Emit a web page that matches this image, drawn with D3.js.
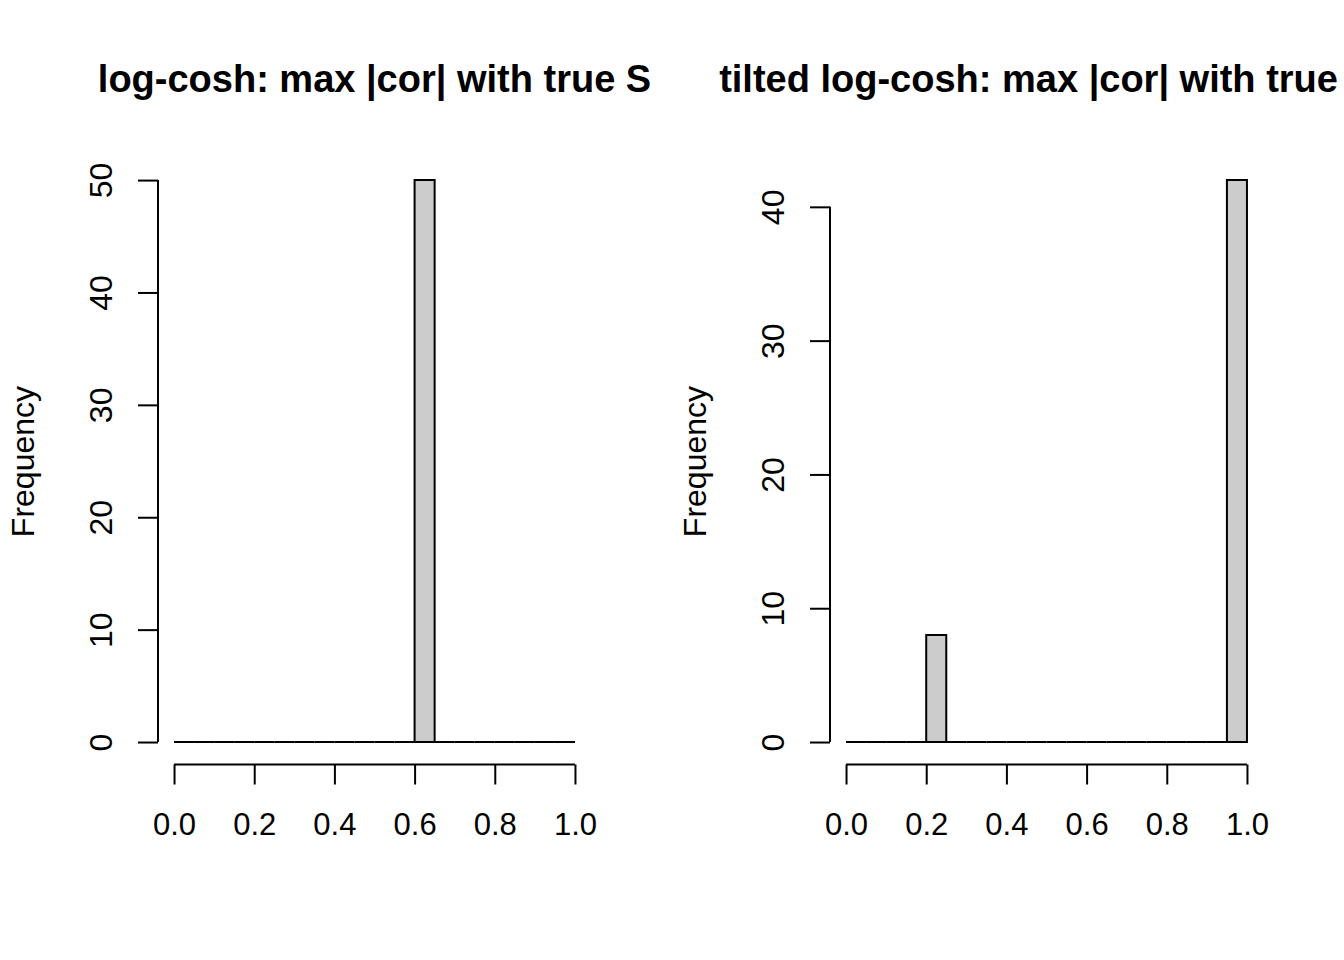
<!DOCTYPE html>
<html>
<head>
<meta charset="utf-8">
<script src="https://cdn.jsdelivr.net/npm/d3@7"></script>
<style>
  body { margin: 0; background: #fff; }
  text { font-family: "Liberation Sans", Arial, sans-serif; fill: #000; }
</style>
</head>
<body>
<div id="chart"></div>
<script>
// histogram breaks and counts
let breaks = d3.range(0, 21).map(function (i) { return +(i * 0.05).toFixed(2); });
let countsLogcosh = [0,0,0,0,0,0,0,0,0,0,0,0,50,0,0,0,0,0,0,0];
let countsTilted  = [0,0,0,0,8,0,0,0,0,0,0,0,0,0,0,0,0,0,0,42];
let xTicks = [0, 0.2, 0.4, 0.6, 0.8, 1.0];
let yTicksLogcosh = [0, 10, 20, 30, 40, 50];
let yTicksTilted = [0, 10, 20, 30, 40];
let titles = ["log-cosh: max |cor| with true S", "tilted log-cosh: max |cor| with true S"];

let W = 1344, H = 960;
let svg = d3.select('#chart').append('svg')
    .attr('width', W)
    .attr('height', H);

let plotTop = 157.6, plotBottom = 764.5;
let font = '"Liberation Sans", Arial, sans-serif';

function panel(offsetX, counts, yTicks, title) {
    let x = d3.scaleLinear().domain([-0.04, 1.04]).range([offsetX + 158, offsetX + 591]);
    let ymax = d3.max(counts);
    let y = d3.scaleLinear().domain([-0.04 * ymax, 1.04 * ymax]).range([plotBottom, plotTop]);

    let g = svg.append('g');

    let bins = counts.map(function (c, i) {
        return { x0: breaks[i], x1: breaks[i + 1], n: c };
    });

    // paths rather than rects so empty bins still show their outline
    g.selectAll('path.bar')
        .data(bins)
        .enter()
        .append('path')
            .attr('class', 'bar')
            .attr('d', function (d) {
                return 'M' + x(d.x0) + ',' + y(0) + 'V' + y(d.n) + 'H' + x(d.x1) + 'V' + y(0) + 'Z';
            })
            .attr('fill', '#cccccc')
            .attr('stroke', '#000')
            .attr('stroke-width', 2);

    // x axis
    let xAxis = g.append('g').attr('transform', 'translate(0,' + plotBottom + ')');
    xAxis.call(d3.axisBottom(x).tickValues(xTicks).tickFormat(d3.format('.1f'))
        .tickSize(20).tickSizeOuter(0));
    xAxis.select('.domain').attr('d', 'M' + x(0) + ',0H' + x(1));
    xAxis.selectAll('line, path').attr('stroke', '#000').attr('stroke-width', 2);
    xAxis.selectAll('text')
        .attr('font-size', '31px')
        .attr('font-family', font)
        .attr('fill', '#000')
        .attr('dy', null)
        .attr('y', 70);

    // y axis
    let yAxis = g.append('g').attr('transform', 'translate(' + (offsetX + 158) + ',0)');
    yAxis.call(d3.axisLeft(y).tickValues(yTicks).tickSize(20).tickSizeOuter(0));
    yAxis.select('.domain').attr('d', 'M0,' + y(0) + 'V' + y(d3.max(yTicks)));
    yAxis.selectAll('line, path').attr('stroke', '#000').attr('stroke-width', 2);
    yAxis.selectAll('.tick text')
        .attr('font-size', '32px')
        .attr('font-family', font)
        .attr('fill', '#000')
        .attr('text-anchor', 'middle')
        .attr('x', null)
        .attr('dy', null)
        .attr('transform', 'translate(-46,0) rotate(-90)');

    // y label
    g.append('text')
        .attr('transform', 'translate(' + (offsetX + 34) + ',' + ((plotTop + plotBottom) / 2 + 0.5) + ') rotate(-90)')
        .attr('text-anchor', 'middle')
        .attr('font-size', '32px')
        .text('Frequency');

    // title
    g.append('text')
        .attr('x', (x(0) + x(1)) / 2)
        .attr('y', 92)
        .attr('text-anchor', 'middle')
        .attr('font-size', '38px')
        .attr('font-weight', 'bold')
        .text(title);
}

panel(0, countsLogcosh, yTicksLogcosh, titles[0]);
panel(672, countsTilted, yTicksTilted, titles[1]);
</script>
</body>
</html>
